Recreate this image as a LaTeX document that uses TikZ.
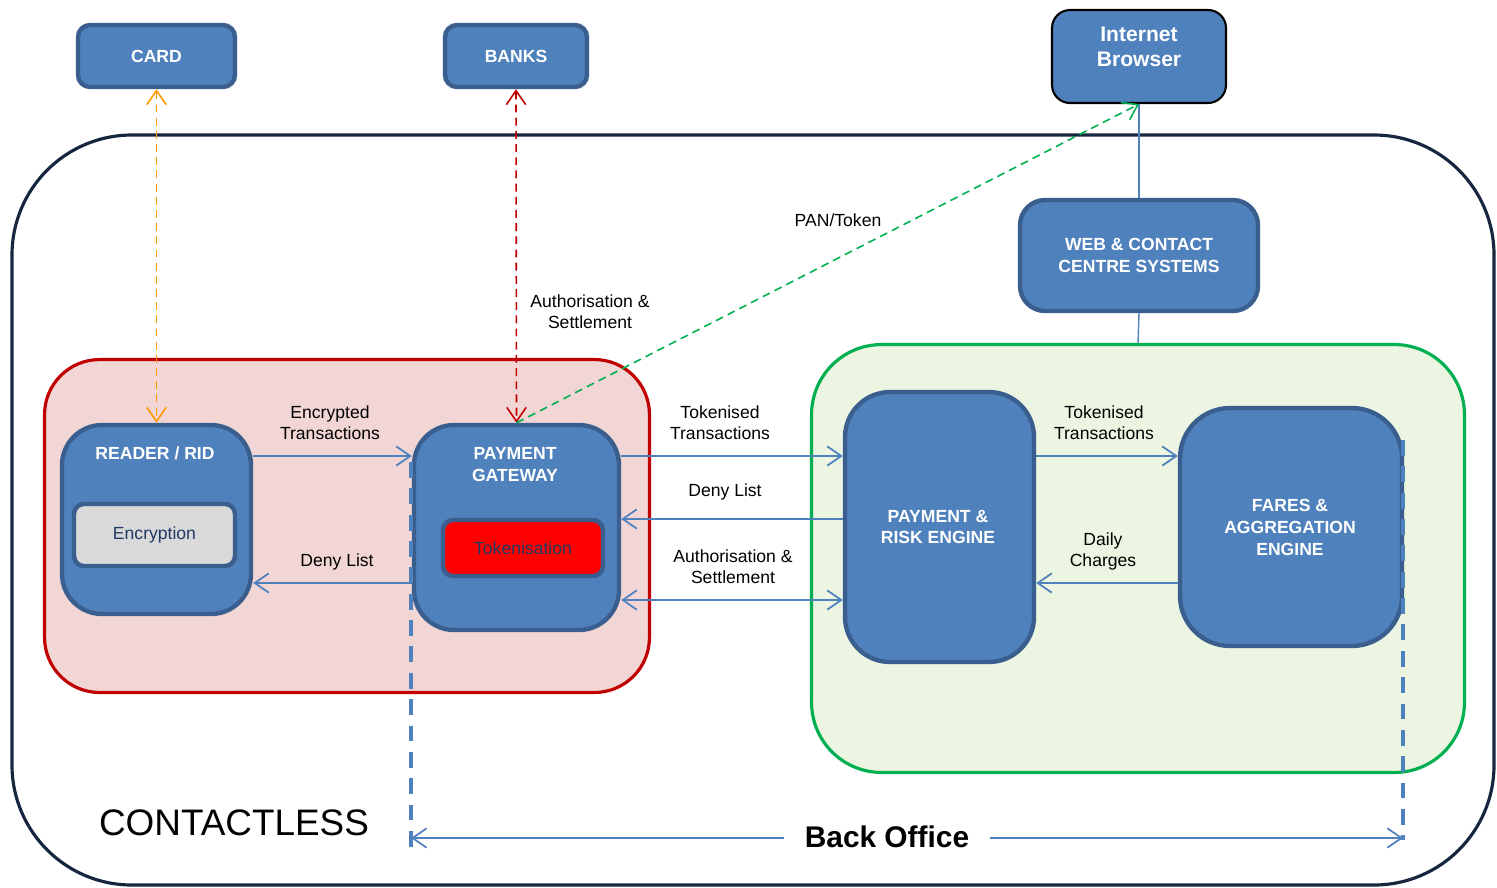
\documentclass[tikz,border=0pt]{standalone}
\usepackage{fontspec}
\setmainfont{Liberation Sans}
\usetikzlibrary{arrows.meta}
\definecolor{bfill}{HTML}{4F81BD}
\definecolor{bline}{HTML}{3A5F8E}
\definecolor{navy}{HTML}{17263F}
\definecolor{redline}{HTML}{C00000}
\definecolor{redfill}{HTML}{F2D5D5}
\definecolor{grnline}{HTML}{00B050}
\definecolor{grnfill}{HTML}{EBF5E1}
\definecolor{orng}{HTML}{FF9900}
\definecolor{txtnavy}{HTML}{1F3864}
\definecolor{encfill}{HTML}{D9D9D9}
\tikzset{
  >={Straight Barb[length=8pt,width=11pt]},
  sysbox/.style={rectangle, fill=bfill, draw=bline, line width=2.5pt, inner sep=0pt},
  boxlabel/.style={text=white, font=\bfseries\fontsize{10}{12.5}\selectfont, align=center, inner sep=0pt},
  subbox/.style={rectangle, draw=bline, line width=2.5pt, rounded corners=0.2cm, inner sep=0pt, text=txtnavy, font=\fontsize{10}{12}\selectfont},
  lbl/.style={font=\fontsize{10}{12}\selectfont, align=center, inner sep=0pt},
  conn/.style={draw=bfill, line width=1pt},
  thindash/.style={line width=0.9pt, dash pattern=on 4.5pt off 3pt},
  bdash/.style={draw=bfill, line width=1.8pt, dash pattern=on 9pt off 6pt},
  region/.style={rectangle, line width=1.8pt, inner sep=0pt}
}
\begin{document}
\begin{tikzpicture}[x=0.02cm,y=-0.02cm]
\useasboundingbox (0,0) rectangle (1497,887);
% outer container
\draw[navy, line width=1.8pt, rounded corners=2.4cm] (12,135) rectangle (1494,885);
% regions
\node[region, draw=redline, fill=redfill, rounded corners=1.1cm, minimum width=12.1cm, minimum height=6.66cm] (red) at (347,526) {};
\node[region, draw=grnline, fill=grnfill, rounded corners=1.4cm, minimum width=13.06cm, minimum height=8.56cm] (green) at (1138,558.5) {};
% top boxes
\node[sysbox, rounded corners=0.24cm, minimum width=3.14cm, minimum height=1.24cm] (card) at (156.5,56) {};
\node[boxlabel] at (card.center) {CARD};
\node[sysbox, rounded corners=0.24cm, minimum width=2.84cm, minimum height=1.24cm] (banks) at (516,56) {};
\node[boxlabel] at (banks.center) {BANKS};
\node[rectangle, fill=bfill, draw=black, line width=1.2pt, rounded corners=0.36cm, minimum width=3.48cm, minimum height=1.86cm, inner sep=0pt] (browser) at (1139,56.5) {};
\node[boxlabel, font=\bfseries\fontsize{12}{14.5}\selectfont] at (1139,47) {Internet\\Browser};
\node[sysbox, rounded corners=0.5cm, minimum width=4.76cm, minimum height=2.22cm] (web) at (1139,255.5) {};
\node[boxlabel] at (web.center) {WEB \& CONTACT\\CENTRE SYSTEMS};
% contactless boxes
\node[sysbox, rounded corners=0.8cm, minimum width=3.78cm, minimum height=3.78cm] (reader) at (156.5,519.5) {};
\node[boxlabel] at (155,453) {READER / RID};
\node[subbox, fill=encfill, minimum width=3.22cm, minimum height=1.24cm] (enc) at (154.5,535) {Encryption};
\node[sysbox, rounded corners=0.8cm, minimum width=4.1cm, minimum height=4.1cm] (gw) at (516.5,527.5) {};
\node[boxlabel] at (515,465) {PAYMENT\\GATEWAY};
\node[subbox, fill=red, minimum width=3.2cm, minimum height=1.12cm] (tok) at (523,548) {Tokenisation};
% back office boxes
\node[sysbox, rounded corners=0.9cm, minimum width=3.78cm, minimum height=5.4cm] (pre) at (939.5,527) {};
\node[boxlabel] at (938,527) {PAYMENT \&\\RISK ENGINE};
\node[sysbox, rounded corners=1.0cm, minimum width=4.44cm, minimum height=4.76cm] (fares) at (1291,527) {};
\node[boxlabel] at (1290,527) {FARES \&\\AGGREGATION\\ENGINE};
% vertical links
\draw[conn, line width=0.8pt] (browser.south) -- (web.north);
\draw[conn, line width=0.8pt] (web.south) -- (green.north);
% horizontal connectors
\coordinate (ya) at (0,456);
\coordinate (yb) at (0,519);
\coordinate (yc) at (0,583);
\coordinate (yd) at (0,600);
\draw[conn,->] (reader.east |- ya) -- (gw.west |- ya);
\draw[conn,->] (gw.west |- yc) -- (reader.east |- yc);
\draw[conn,->] (gw.east |- ya) -- (pre.west |- ya);
\draw[conn,->] (pre.west |- yb) -- (gw.east |- yb);
\draw[conn,<->] (gw.east |- yd) -- (pre.west |- yd);
\draw[conn,->] (pre.east |- ya) -- (fares.west |- ya);
\draw[conn,->] (fares.west |- yc) -- (pre.east |- yc);
% labels
\node[lbl] at (330,423) {Encrypted\\Transactions};
\node[lbl] at (337,562) {Deny List};
\node[lbl] at (720,423) {Tokenised\\Transactions};
\node[lbl] at (725,492) {Deny List};
\node[lbl] at (733,567) {Authorisation \&\\Settlement};
\node[lbl] at (1104,423) {Tokenised\\Transactions};
\node[lbl] at (1103,551) {Daily\\Charges};
\node[lbl] at (590,312) {Authorisation \&\\Settlement};
\node[lbl] at (838,220) {PAN/Token};
% dashed external links
\draw[orng, thindash, <->] (card.south) -- (reader.north);
\draw[redline, thindash, <->] (banks.south) -- (gw.north);
\draw[grnline, thindash, ->] (gw.north) -- (browser.south);
% back office span
\coordinate (t1) at (411,462);
\coordinate (b1) at (411,855);
\coordinate (t2) at (1403,440);
\coordinate (b2) at (1403,840);
\draw[bdash] (t1) -- (b1);
\draw[bdash] (t2) -- (b2);
\coordinate (boL) at (411,838);
\coordinate (boR) at (1403,838);
\draw[conn,<->] (boL) -- (boR);
\node[fill=white, inner xsep=12pt, inner ysep=2pt, font=\bfseries\fontsize{17}{20}\selectfont] (bo) at (887,837) {Back Office};
\node[font=\fontsize{21}{24}\selectfont, inner sep=0pt] (cl) at (234,823) {CONTACTLESS};
\end{tikzpicture}
\end{document}
